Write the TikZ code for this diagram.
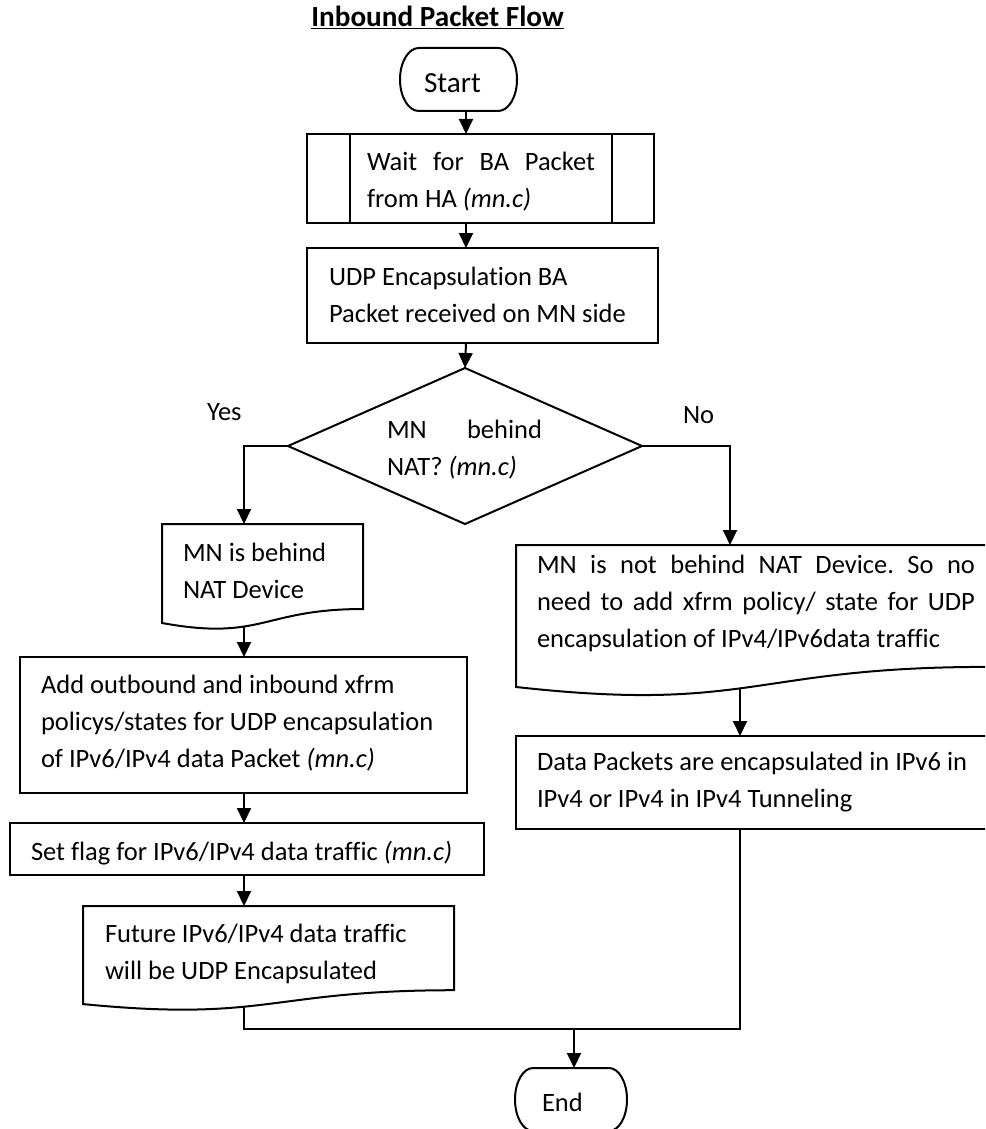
\documentclass[tikz,border=0pt]{standalone}
\usepackage{fontspec}
\setmainfont{Carlito}[Ligatures=NoCommon]
\usetikzlibrary{arrows.meta,calc}
\frenchspacing
\newcommand\bodyfont{\fontsize{26.5}{37}\selectfont}
\tikzset{
  ln/.style={line width=2pt},
  box/.style={draw, line width=2pt, rectangle, inner sep=0pt, outer sep=0pt},
  ghost/.style={rectangle, inner sep=0pt, outer sep=0pt},
  txt/.style={anchor=base west, inner sep=0pt, outer sep=0pt, font=\bodyfont},
  arr/.style={line width=2pt, -{Triangle[length=15pt,width=14pt]}},
  conn/.style={line width=2pt},
}
\begin{document}
\begin{tikzpicture}[x=1pt, y=-1pt]
\useasboundingbox (0,0) rectangle (985,1129);
\clip (0,0) rectangle (985,1129);

% axes for connectors
\coordinate (cx) at (466,0);
\coordinate (lx) at (244,0);
\coordinate (rx) at (730,0);
\coordinate (rx2) at (740,0);

% title
\node[anchor=base east, inner sep=0pt, font=\bfseries\fontsize{29.2}{32}\selectfont] (title) at (564,27) {\underline{Inbound Packet Flow}};

% start
\node[ghost, minimum width=117pt, minimum height=63pt] (start) at (458.5,79.5) {};
\draw[ln] ([xshift=18.8pt]start.north west) -- ([xshift=-18.8pt]start.north east)
  arc[start angle=90, end angle=-90, x radius=18.8pt, y radius=31.5pt]
  -- ([xshift=18.8pt]start.south west)
  arc[start angle=270, end angle=90, x radius=18.8pt, y radius=31.5pt] -- cycle;
\node[txt, font=\fontsize{29.2}{34}\selectfont] (start-t) at (424,92.7) {Start};

% subprocess
\node[box, minimum width=347pt, minimum height=89pt] (sub) at (480.5,178.5) {};
\draw[ln] ([xshift=43pt]sub.north west) -- ([xshift=43pt]sub.south west);
\draw[ln] ([xshift=-42pt]sub.north east) -- ([xshift=-42pt]sub.south east);
\node[txt] (sub-t) at (367,170) {\vtop{\hbox{\makebox[228pt][s]{Wait for BA Packet}}\hbox{from HA \textit{(mn.c)}}}};

% udp
\node[box, minimum width=351pt, minimum height=95pt] (udp) at (482.5,295.5) {};
\node[txt] (udp-t) at (329,285) {\vtop{\hbox{UDP Encapsulation BA}\hbox{Packet received on MN side}}};

% decision
\node[ghost, minimum width=354pt, minimum height=156pt] (dec) at (465,446) {};
\draw[ln] (dec.north) -- (dec.east) -- (dec.south) -- (dec.west) -- cycle;
\node[txt] (dec-t) at (387,438) {\vtop{\hbox{\makebox[155pt][s]{MN behind}}\hbox{NAT? \textit{(mn.c)}}}};
\node[txt] (yes) at (207,420) {Yes};
\node[txt] (no) at (683,423) {No};

% behind doc
\node[ghost, minimum width=201pt, minimum height=106pt] (behind) at (262.5,577) {};
\draw[ln] (behind.north west) -- (behind.north east) -- ($(behind.north east)!0.802!(behind.south east)$)
  .. controls ($(behind.north)!0.802!(behind.south)$) and ($(behind.north)!1.107!(behind.south)$) .. ($(behind.north west)!0.934!(behind.south west)$) -- cycle;
\node[txt] (behind-t) at (183,561) {\vtop{\hbox{MN is behind}\hbox{NAT Device}}};
\coordinate (behind-out) at (244,627);

% not behind doc
\node[ghost, minimum width=471pt, minimum height=152pt] (notb) at (751.5,621) {};
\draw[ln] (notb.north west) -- (notb.north east) -- ($(notb.north east)!0.802!(notb.south east)$)
  .. controls ($(notb.north)!0.802!(notb.south)$) and ($(notb.north)!1.107!(notb.south)$) .. ($(notb.north west)!0.934!(notb.south west)$) -- cycle;
\node[txt] (notb-t) at (537,573) {\vtop{\hbox{\makebox[438pt][s]{MN is not behind NAT Device. So no}}\hbox{\makebox[438pt][s]{need to add xfrm policy/ state for UDP}}\hbox{encapsulation of IPv4/IPv6data traffic}}};
\coordinate (notb-out) at (740,688);

% add box
\node[box, minimum width=447pt, minimum height=136pt] (add) at (243.5,725) {};
\node[txt] (add-t) at (41,693) {\vtop{\hbox{Add outbound and inbound xfrm}\hbox{policys/states for UDP encapsulation}\hbox{of IPv6/IPv4 data Packet \textit{(mn.c)}}}};

% flag box
\node[box, minimum width=474pt, minimum height=52pt] (flag) at (247,849) {};
\node[txt] (flag-t) at (31,860) {Set flag for IPv6/IPv4 data traffic \textit{(mn.c)}};

% future doc
\node[ghost, minimum width=371pt, minimum height=105pt] (fut) at (268.5,958.5) {};
\draw[ln] (fut.north west) -- (fut.north east) -- ($(fut.north east)!0.802!(fut.south east)$)
  .. controls ($(fut.north)!0.802!(fut.south)$) and ($(fut.north)!1.107!(fut.south)$) .. ($(fut.north west)!0.934!(fut.south west)$) -- cycle;
\node[txt] (fut-t) at (105,942) {\vtop{\hbox{Future IPv6/IPv4 data traffic}\hbox{will be UDP Encapsulated}}};
\coordinate (fut-out) at (244,1006.6);

% data box
\node[box, minimum width=471pt, minimum height=93pt] (data) at (751.5,782.5) {};
\node[txt] (data-t) at (537,770) {\vtop{\hbox{Data Packets are encapsulated in IPv6 in}\hbox{IPv4 or IPv4 in IPv4 Tunneling}}};

% end
\node[ghost, minimum width=112pt, minimum height=63pt] (end) at (571,1099.5) {};
\draw[ln] ([xshift=18pt]end.north west) -- ([xshift=-18pt]end.north east)
  arc[start angle=90, end angle=-90, x radius=18pt, y radius=31.5pt]
  -- ([xshift=18pt]end.south west)
  arc[start angle=270, end angle=90, x radius=18pt, y radius=31.5pt] -- cycle;
\node[txt] (end-t) at (542,1111) {End};
\coordinate (join) at (574,1029);

% connectors
\draw[arr] (cx |- start.south) -- (cx |- sub.north);
\draw[arr] (cx |- sub.south) -- (cx |- udp.north);
\draw[arr] (cx |- udp.south) -- (dec.north);
\draw[arr] (dec.west) -| (lx |- behind.north);
\draw[arr] (dec.east) -| (rx |- notb.north);
\draw[arr] (behind-out) -- (lx |- add.north);
\draw[arr] (lx |- add.south) -- (lx |- flag.north);
\draw[arr] (lx |- flag.south) -- (lx |- fut.north);
\draw[arr] (notb-out) -- (rx2 |- data.north);
\draw[conn] (fut-out) |- (rx2 |- join) -- (rx2 |- data.south);
\draw[arr] (join) -- (join |- end.north);
\end{tikzpicture}
\end{document}
